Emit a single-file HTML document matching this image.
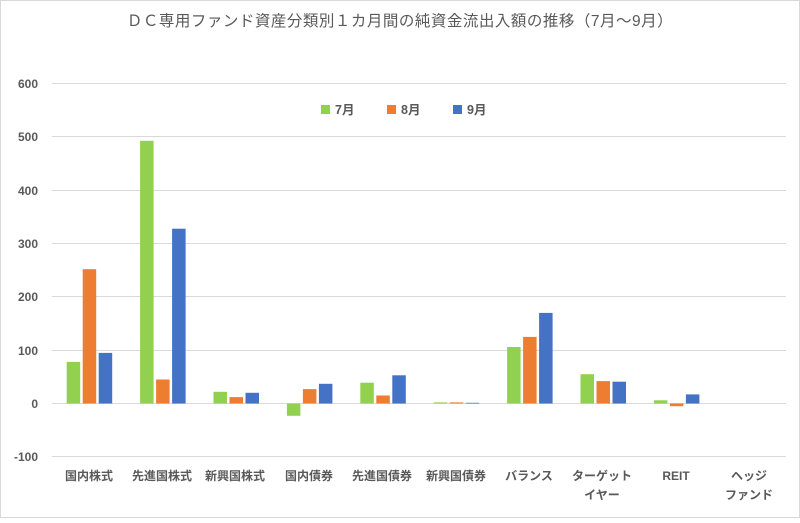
<!DOCTYPE html>
<html><head><meta charset="utf-8"><style>
body{margin:0;background:#fff;}
text{font-family:"Liberation Sans","Noto Sans CJK JP",sans-serif;}
</style></head><body>
<svg width="800" height="518" xmlns="http://www.w3.org/2000/svg">
<rect x="0.5" y="0.5" width="799" height="517" fill="#fff" stroke="#d9d9d9"/>
<text x="400" y="26" text-anchor="middle" font-size="15.5" fill="#595959" letter-spacing="0.5">ＤＣ専用ファンド資産分類別１カ月間の純資金流出入額の推移（7月～9月）</text>
<g stroke="#d9d9d9" stroke-width="1">
<line x1="52" x2="786" y1="83.5" y2="83.5"/><line x1="52" x2="786" y1="136.5" y2="136.5"/>
<line x1="52" x2="786" y1="190.5" y2="190.5"/><line x1="52" x2="786" y1="243.5" y2="243.5"/>
<line x1="52" x2="786" y1="296.5" y2="296.5"/><line x1="52" x2="786" y1="350.5" y2="350.5"/>
<line x1="52" x2="786" y1="403.5" y2="403.5"/><line x1="52" x2="786" y1="456.5" y2="456.5"/>
</g>
<g font-size="12" fill="#595959" text-anchor="end" font-weight="bold">
<text x="38" y="88">600</text><text x="38" y="141">500</text><text x="38" y="195">400</text>
<text x="38" y="248">300</text><text x="38" y="301">200</text><text x="38" y="355">100</text>
<text x="38" y="408">0</text><text x="38" y="461">-100</text>
</g>
<g fill="#92d050">
<rect x="66.7" y="361.9" width="13.5" height="41.6"/>
<rect x="140.1" y="140.8" width="13.5" height="262.7"/>
<rect x="213.5" y="391.8" width="13.5" height="11.7"/>
<rect x="286.9" y="403.5" width="13.5" height="12.3"/>
<rect x="360.3" y="382.7" width="13.5" height="20.8"/>
<rect x="433.7" y="402.4" width="13.5" height="1.1"/>
<rect x="507.1" y="347" width="13.5" height="56.5"/>
<rect x="580.5" y="374.2" width="13.5" height="29.3"/>
<rect x="653.9" y="400.3" width="13.5" height="3.2"/>
</g>
<g fill="#ed7d31">
<rect x="82.7" y="269.2" width="13.5" height="134.3"/>
<rect x="156.1" y="379.5" width="13.5" height="24"/>
<rect x="229.5" y="397.1" width="13.5" height="6.4"/>
<rect x="302.9" y="389.1" width="13.5" height="14.4"/>
<rect x="376.3" y="395.5" width="13.5" height="8"/>
<rect x="449.7" y="402.4" width="13.5" height="1.1"/>
<rect x="523.1" y="336.9" width="13.5" height="66.6"/>
<rect x="596.5" y="381.1" width="13.5" height="22.4"/>
<rect x="669.9" y="403.5" width="13.5" height="2.7"/>
</g>
<g fill="#4472c4">
<rect x="98.7" y="352.9" width="13.5" height="50.6"/>
<rect x="172.1" y="228.7" width="13.5" height="174.8"/>
<rect x="245.5" y="392.8" width="13.5" height="10.7"/>
<rect x="318.9" y="383.8" width="13.5" height="19.7"/>
<rect x="392.3" y="375.3" width="13.5" height="28.2"/>
<rect x="465.7" y="402.8" width="13.5" height="0.7"/>
<rect x="539.1" y="312.9" width="13.5" height="90.6"/>
<rect x="612.5" y="381.7" width="13.5" height="21.8"/>
<rect x="685.9" y="394.4" width="13.5" height="9.1"/>
</g>
<g font-size="12" fill="#595959" text-anchor="middle" font-weight="bold">
<text x="89" y="480">国内株式</text><text x="162" y="480">先進国株式</text><text x="235" y="480">新興国株式</text>
<text x="309" y="480">国内債券</text><text x="382" y="480">先進国債券</text><text x="456" y="480">新興国債券</text>
<text x="529" y="480">バランス</text><text x="602" y="480">ターゲット</text><text x="602" y="499">イヤー</text>
<text x="676" y="480">REIT</text><text x="749" y="480">ヘッジ</text><text x="749" y="499">ファンド</text>
</g>
<g font-size="12.5" fill="#595959" font-weight="bold">
<rect x="321" y="105" width="9" height="9" fill="#92d050"/><text x="335" y="114">7月</text>
<rect x="387" y="105" width="9" height="9" fill="#ed7d31"/><text x="401" y="114">8月</text>
<rect x="453" y="105" width="9" height="9" fill="#4472c4"/><text x="467" y="114">9月</text>
</g>
</svg>
</body></html>
